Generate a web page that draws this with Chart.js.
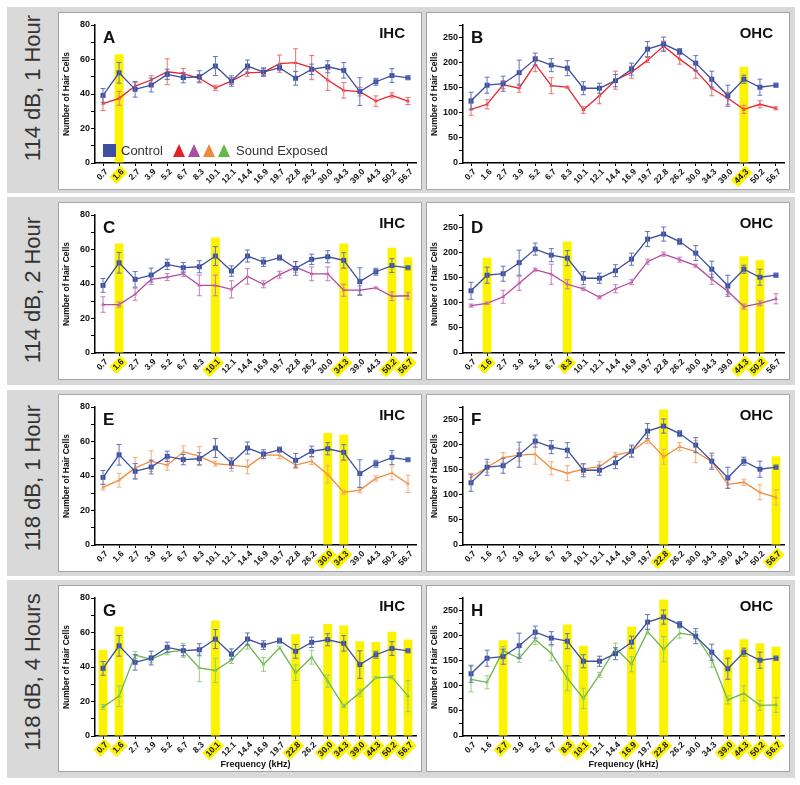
<!DOCTYPE html>
<html>
<head>
<meta charset="utf-8">
<script src="https://cdn.jsdelivr.net/npm/chart.js@4.4.1/dist/chart.umd.min.js"></script>
<style>
body{margin:0;width:800px;height:785px;background:#fff;position:relative;overflow:hidden;font-family:"Liberation Sans",Arial,sans-serif}
.band{position:absolute;left:7px;width:788px;background:#d9d9d9}
.rowlab{position:absolute;left:-67px;width:200px;height:26px;line-height:26px;text-align:center;font-size:22px;color:#333;transform:rotate(-90deg)}
.box{position:absolute;width:364px;background:#fff;border:1px solid #a3a3a3;box-sizing:border-box}
.box canvas{display:block}
</style>
</head>
<body>
<div class="band" style="top:7px;height:186px"></div>
<div class="band" style="top:197px;height:188px"></div>
<div class="band" style="top:390px;height:186px"></div>
<div class="band" style="top:580px;height:198px"></div>

<div class="rowlab" style="top:75px">114 dB, 1 Hour</div>
<div class="rowlab" style="top:277px">114 dB, 2 Hour</div>
<div class="rowlab" style="top:465px">118 dB, 1 Hour</div>
<div class="rowlab" style="top:659px">118 dB, 4 Hours</div>

<div class="box" style="left:58px;top:12px;height:178px"><canvas id="cA" width="362" height="176"></canvas></div>
<div class="box" style="left:426px;top:12px;height:178px"><canvas id="cB" width="362" height="176"></canvas></div>
<div class="box" style="left:58px;top:202px;height:178px"><canvas id="cC" width="362" height="176"></canvas></div>
<div class="box" style="left:426px;top:202px;height:178px"><canvas id="cD" width="362" height="176"></canvas></div>
<div class="box" style="left:58px;top:394px;height:178px"><canvas id="cE" width="362" height="176"></canvas></div>
<div class="box" style="left:426px;top:394px;height:178px"><canvas id="cF" width="362" height="176"></canvas></div>
<div class="box" style="left:58px;top:585px;height:187px"><canvas id="cG" width="362" height="185"></canvas></div>
<div class="box" style="left:426px;top:585px;height:187px"><canvas id="cH" width="362" height="185"></canvas></div>

<script>
const freqs = ['0.7','1.6','2.7','3.9','5.2','6.7','8.3','10.1','12.1','14.4','16.9','19.7','22.8','26.2','30.0','34.3','39.0','44.3','50.2','56.7'];

// control (same in every row)
const ihcControl    = [39.2,52.3,42.7,45.2,51.4,49.5,50.0,56.2,47.5,56.2,52.7,55.3,49.1,54.3,55.8,53.7,41.4,47.1,50.7,49.4];
const ihcControlErr = [4,6,4.5,4,3,3,3.5,5.5,3,3.5,2.5,1.5,4,3,3.5,4.5,8,2,4,1];
const ohcControl    = [124,155,158,180,207,195,189,149,149,164,187,227,237,222,199,167,134,167,151,155];
const ohcControlErr = [17,16,15,25,12,13,15,13,10,12,12,15,14,6,15,16,21,8,16,4];

// sound exposed
const ihc114_1h    = [34.4,37.5,44.6,48.1,52.9,51.8,49.1,43.6,47.5,52.3,52.7,57.6,58.2,55.3,48.1,42.1,41.4,35.9,39.2,35.9];
const ihc114_1hErr = [4,4,2,2.5,7.5,3,2,1.5,2,2,2,5,8,7,6,4.5,2.5,3,1.5,2];
const ohc114_1h    = [107,117,156,149,197,154,151,106,134,165,181,205,233,207,184,149,129,107,117,109];
const ohc114_1hErr = [12,9,8,8,15,16,2,7,16,18,12,5,10,10,15,15,12,8,7,3];

const ihc114_2h    = [28.1,28.1,34.1,42.7,44,45.9,39.2,39.2,36.9,44.4,39.8,45.4,49.8,45.9,45.9,36.4,36.4,37.7,32.9,33.2];
const ihc114_2hErr = [4.5,1.5,3.5,3,2,1.5,6,6,5,4.5,2,2,3,4,4,3.5,2.5,0.5,2.5,2];
const ohc114_2h    = [94.5,99,112,139,166,157,137,128,111,128,141,182,197,186,174,147,123,92.5,99,108];
const ohc114_2hErr = [3,2,13,14,3,20,9,3,3,8,5,5,4,5,3,10,6,5,5,10];

const ihc118_1h    = [33.4,37.6,44.7,48.6,46.3,54,51.5,47.2,46.3,45.3,52.1,52.1,46.3,48.6,40.9,30.5,31.8,38.6,41.8,35.5];
const ihc118_1hErr = [1.5,4,6,6,3,3.5,5.5,1.5,3.5,4,2,2,2,2,5,1,1.5,1.5,4,5];
const ohc118_1h    = [135,155,174,179,181,153,143,151,156,179,186,210,176,196,186,166,121,125,105,95];
const ohc118_1hErr = [8,10,10,12,20,13,15,10,10,5,10,8,15,8,22,12,8,6,15,15];

const ihc118_4h    = [16.8,23.1,46.9,44.4,48.6,49.6,39.5,38,44,53.4,41.5,51.1,36.7,45.7,31.8,17.4,25.1,33.8,34.1,23.1];
const ihc118_4hErr = [1.5,6,2,2,1.5,4,8,7,2,3,4,1,4.5,4,3.5,1,2,0.5,1,9];
const ohc118_4h    = [113,107,170,155,192,165,115,75,122,175,143,208,173,205,200,152,72,85,61,62];
const ohc118_4hErr = [25,13,8,8,10,15,25,20,5,10,15,5,25,10,8,15,8,15,10,15];

// yellow highlights: categories and bar tops
const hlA = ['1.6'],  hlATop = [63];
const hlB = ['44.3'], hlBTop = [192];
const hlC = ['1.6','10.1','34.3','50.2','56.7'], hlCTop = [63.5,67,63.5,61,55.5];
const hlD = ['1.6','8.3','44.3','50.2'], hlDTop = [190,222,193,185];
const hlE = ['30.0','34.3'], hlETop = [65,64];
const hlF = ['22.8','56.7'], hlFTop = [270,177];
const hlG = ['0.7','1.6','10.1','22.8','30.0','34.3','39.0','44.3','50.2','56.7'], hlGTop = [50,63.5,67,59,65,64,55,54.5,60.5,56];
const hlH = ['2.7','8.3','10.1','16.9','22.8','39.0','44.3','50.2','56.7'], hlHTop = [191,222,180,218,272,172,193,185,178];

const FONT = '"Liberation Sans", Arial, sans-serif';
const YEL = '#fbf300';
const BLUE = '#3c4fa0', BLUE_ERR = '#6174bb';

const errorBars = {
  id: 'errorBars',
  afterDatasetDraw(chart, args) {
    const ds = chart.data.datasets[args.index];
    if (!ds.errors) return;
    const {ctx} = chart;
    const y = chart.scales.y;
    ctx.save();
    ctx.strokeStyle = ds.errColor;
    ctx.lineWidth = 1;
    args.meta.data.forEach((pt, i) => {
      const v = ds.data[i], e = ds.errors[i];
      const t = y.getPixelForValue(v + e), b = y.getPixelForValue(v - e);
      ctx.beginPath();
      ctx.moveTo(pt.x, t); ctx.lineTo(pt.x, b);
      ctx.moveTo(pt.x - 2.5, t); ctx.lineTo(pt.x + 2.5, t);
      ctx.moveTo(pt.x - 2.5, b); ctx.lineTo(pt.x + 2.5, b);
      ctx.stroke();
    });
    ctx.restore();
  }
};

const panelText = {
  id: 'panelText',
  afterDraw(chart, args, o) {
    const {ctx, chartArea: a} = chart;
    ctx.save();
    ctx.fillStyle = '#111';
    ctx.textBaseline = 'alphabetic';
    ctx.font = 'bold 17px ' + FONT;
    ctx.fillText(o.letter, a.left + 8, a.top + 18);
    ctx.textAlign = 'right';
    ctx.font = 'bold 15px ' + FONT;
    ctx.fillText(o.cell, a.right - 11, a.top + 13);
    if (o.legend) {
      ctx.textAlign = 'left';
      ctx.textBaseline = 'middle';
      ctx.fillStyle = BLUE;
      ctx.fillRect(a.left + 8, a.bottom - 19, 13, 13);
      ctx.fillStyle = '#333';
      ctx.font = '13px ' + FONT;
      ctx.fillText('Control', a.left + 26, a.bottom - 12);
      ['#e4202a', '#a650a0', '#f08a3a', '#66b84a'].forEach((c, k) => {
        const x0 = a.left + 78 + 15 * k;
        ctx.fillStyle = c;
        ctx.beginPath();
        ctx.moveTo(x0, a.bottom - 6);
        ctx.lineTo(x0 + 12, a.bottom - 6);
        ctx.lineTo(x0 + 6, a.bottom - 19);
        ctx.closePath();
        ctx.fill();
      });
      ctx.fillStyle = '#333';
      ctx.fillText('Sound Exposed', a.left + 141, a.bottom - 12);
    }
    ctx.restore();
  }
};

function panel(id, p) {
  const ohc = p.cell === 'OHC';
  const tops = freqs.map(f => { const k = p.hl.indexOf(f); return k < 0 ? null : p.hlTop[k]; });
  const hlIdx = freqs.map(f => p.hl.includes(f));
  new Chart(document.getElementById(id), {
    data: {
      labels: freqs,
      datasets: [
        {type: 'bar', data: tops, backgroundColor: YEL, barPercentage: 0.55, categoryPercentage: 1, order: 3},
        {type: 'line', data: p.exp, errors: p.expErr, errColor: p.errColor, borderColor: p.color,
         backgroundColor: p.color, borderWidth: 1.3, pointStyle: 'triangle', pointRadius: 2.2,
         pointBorderWidth: 0, order: 2},
        {type: 'line', data: ohc ? ohcControl : ihcControl, errors: ohc ? ohcControlErr : ihcControlErr,
         errColor: BLUE_ERR, borderColor: BLUE, backgroundColor: BLUE, borderWidth: 1.3,
         pointStyle: 'rect', pointRadius: 3.5, pointBorderWidth: 0, order: 1}
      ]
    },
    options: {
      responsive: false,
      animation: false,
      layout: {padding: {left: 0, right: 5, top: 12, bottom: 0}},
      plugins: {
        legend: {display: false},
        tooltip: {enabled: false},
        panelText: {letter: p.letter, cell: p.cell, legend: !!p.legend}
      },
      scales: {
        x: {
          type: 'category',
          offset: true,
          grid: {display: true, drawOnChartArea: false, offset: false, tickLength: 3, color: '#000'},
          border: {color: '#000', width: 1.5},
          ticks: {
            autoSkip: false, minRotation: 45, maxRotation: 45, padding: 1, color: '#111',
            font: {family: FONT, size: 8.5, weight: 'bold'},
            showLabelBackdrop: true,
            backdropColor: c => hlIdx[c.index] ? YEL : 'rgba(0,0,0,0)',
            backdropPadding: {x: 2, y: 0}
          },
          title: {display: !!p.xTitle, text: 'Frequency (kHz)', color: '#111',
                  font: {family: FONT, size: 9, weight: 'bold'}, padding: {top: 0, bottom: 1}},
          afterFit: s => { s.height = p.xTitle ? 35 : 26; }
        },
        y: {
          min: 0, max: ohc ? 275 : 80,
          grid: {display: true, drawOnChartArea: false, tickLength: 4, color: '#000'},
          border: {color: '#000', width: 1.5},
          ticks: {
            stepSize: ohc ? 25 : 10, autoSkip: false, padding: 1, color: '#111',
            font: {family: FONT, size: 9, weight: 'bold'},
            callback: v => v % (ohc ? 50 : 20) === 0 ? v : ''
          },
          title: {display: true, text: 'Number of Hair Cells', color: '#111',
                  font: {family: FONT, size: 8.5, weight: 'bold'}, padding: {top: 3, bottom: 0}},
          afterFit: s => { s.width = 36; }
        }
      }
    },
    plugins: [errorBars, panelText]
  });
}

const RED = ['#e8232b', '#ee6f75'], MAG = ['#b5479f', '#c97bbb'], ORA = ['#f28a3c', '#f5ad78'], GRN = ['#6cb54a', '#97cc7e'];

panel('cA', {letter: 'A', cell: 'IHC', exp: ihc114_1h, expErr: ihc114_1hErr, color: RED[0], errColor: RED[1], hl: hlA, hlTop: hlATop, legend: true});
panel('cB', {letter: 'B', cell: 'OHC', exp: ohc114_1h, expErr: ohc114_1hErr, color: RED[0], errColor: RED[1], hl: hlB, hlTop: hlBTop});
panel('cC', {letter: 'C', cell: 'IHC', exp: ihc114_2h, expErr: ihc114_2hErr, color: MAG[0], errColor: MAG[1], hl: hlC, hlTop: hlCTop});
panel('cD', {letter: 'D', cell: 'OHC', exp: ohc114_2h, expErr: ohc114_2hErr, color: MAG[0], errColor: MAG[1], hl: hlD, hlTop: hlDTop});
panel('cE', {letter: 'E', cell: 'IHC', exp: ihc118_1h, expErr: ihc118_1hErr, color: ORA[0], errColor: ORA[1], hl: hlE, hlTop: hlETop});
panel('cF', {letter: 'F', cell: 'OHC', exp: ohc118_1h, expErr: ohc118_1hErr, color: ORA[0], errColor: ORA[1], hl: hlF, hlTop: hlFTop});
panel('cG', {letter: 'G', cell: 'IHC', exp: ihc118_4h, expErr: ihc118_4hErr, color: GRN[0], errColor: GRN[1], hl: hlG, hlTop: hlGTop, xTitle: true});
panel('cH', {letter: 'H', cell: 'OHC', exp: ohc118_4h, expErr: ohc118_4hErr, color: GRN[0], errColor: GRN[1], hl: hlH, hlTop: hlHTop, xTitle: true});
</script>
</body>
</html>
